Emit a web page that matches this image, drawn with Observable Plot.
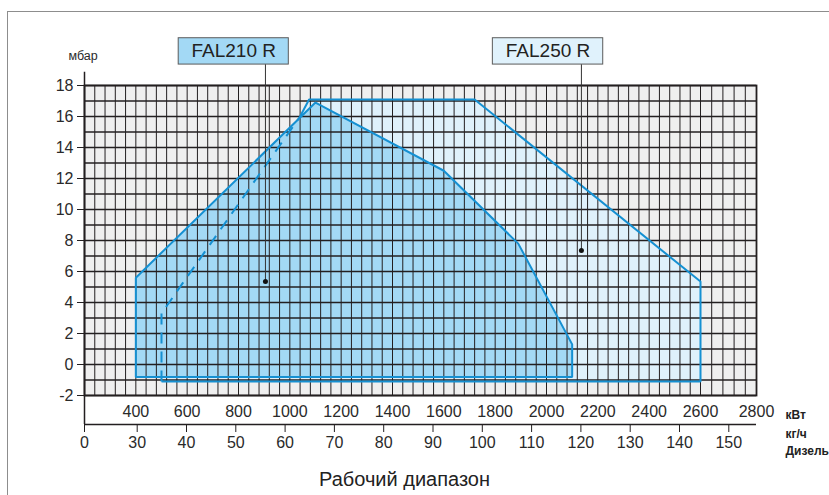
<!DOCTYPE html>
<html><head><meta charset="utf-8">
<script src="https://cdn.jsdelivr.net/npm/d3@7"></script>
<script src="https://cdn.jsdelivr.net/npm/@observablehq/plot@0.6"></script>
<style>
body{margin:0;background:#fff;}
#wrap{position:relative;width:829px;height:495px;overflow:hidden;font-family:"Liberation Sans",Arial,sans-serif;}
#wrap svg{position:absolute;left:0;top:0;}
#border{position:absolute;left:7px;top:11px;width:900px;height:600px;border-top:1.5px solid #8d8d8d;border-left:1.5px solid #8d8d8d;}
</style></head><body><div id="wrap"><div id="border"></div></div>
<script>
// ---- data ----
const kwTicks = [400, 600, 800, 1000, 1200, 1400, 1600, 1800, 2000, 2200, 2400, 2600, 2800];
const kgTicks = [0, 30, 40, 50, 60, 70, 80, 90, 100, 110, 120, 130, 140, 150];
const mbarTicks = [-2, 0, 2, 4, 6, 8, 10, 12, 14, 16, 18];

const fal210Kw   = [400, 400, 1100, 1600, 1890, 2100, 2100];
const fal210Mbar = [-0.8, 5.6, 16.9, 12.5, 7.8, 1.3, -0.8];

const fal250Kw   = [500, 500, 1040, 1075, 1720, 2600, 2600];
const fal250Mbar = [-1.1, 3.3, 16.0, 17.1, 17.1, 5.35, -1.1];

const labels     = ["FAL210 R", "FAL250 R"];
const labelKw    = [905, 2136];
const labelMbar  = [5.35, 7.35];
const boxFromKw  = [567, 1791];
const boxToKw    = [996, 2221];
const boxColors  = ["#a3d9f5", "#e0f2fc"];

const unitLabels = ["кВт", "кг/ч", "Дизель"];
const unitOffsets = [23, 42.5, 59];
const title = "Рабочий диапазон";
const yUnit = "мбар";

// ---- derived tables ----
const fal210 = fal210Kw.map((kw, i) => ({kw, mbar: fal210Mbar[i]}));
const fal250 = fal250Kw.map((kw, i) => ({kw, mbar: fal250Mbar[i]}));
const fal250Dashed = fal250.slice(0, 3);
const fal250Solid = [2, 3, 4, 5, 6, 0].map(i => fal250[i]);
const ann = labels.map((label, i) => ({label, kw: labelKw[i], mbar: labelMbar[i], b1: boxFromKw[i], b2: boxToKw[i], fill: boxColors[i]}));
const gridKw = d3.range(200, 2801, 40);
const gridMbar = d3.range(-2, 18.01, 1);

const INK = "#231f20";
const EDGE = "#1590d2";
const FONT = "'Liberation Sans', Arial, sans-serif";
const fmt = d => String(d);

const unitMarks = unitLabels.map((u, i) =>
  Plot.text([u], {frameAnchor: "bottom-right", dx: 29, dy: unitOffsets[i], textAnchor: "start", fontWeight: "bold", fontSize: 12, text: d => d, fill: "#222"}));

const main = Plot.plot({
  width: 829, height: 495,
  marginLeft: 84, marginRight: 73, marginTop: 85, marginBottom: 100,
  style: {background: "transparent", fontFamily: FONT, color: "#2a2a2a"},
  x: {type: "linear", domain: [200, 2600, 2800], range: [84, 700, 756]},
  y: {domain: [-2, 18]},
  color: {type: "identity"},
  marks: [
    Plot.frame({fill: "#efefef", stroke: "none"}),
    Plot.line(fal250, {x: "kw", y: "mbar", fill: "#dff1fb", stroke: "none", curve: "linear-closed"}),
    Plot.line(fal210, {x: "kw", y: "mbar", fill: "#a3d9f5", stroke: "none", curve: "linear-closed"}),
    Plot.ruleX(gridKw, {stroke: INK, strokeWidth: 1}),
    Plot.ruleY(gridMbar, {stroke: INK, strokeWidth: 1.5}),
    Plot.frame({stroke: INK, strokeWidth: 1.8}),
    Plot.line(fal250Solid, {x: "kw", y: "mbar", stroke: EDGE, strokeWidth: 2, strokeLinejoin: "miter", strokeLinecap: "butt"}),
    Plot.line(fal250Dashed, {x: "kw", y: "mbar", stroke: EDGE, strokeWidth: 2, strokeDasharray: "11,8", strokeLinecap: "butt"}),
    Plot.line(fal210, {x: "kw", y: "mbar", stroke: EDGE, strokeWidth: 2, curve: "linear-closed", strokeLinejoin: "miter"}),
    Plot.ruleX([200], {y1: 18.85, y2: -3.87, stroke: INK, strokeWidth: 1.5}),
    Plot.ruleX(ann, {x: "kw", y1: 19.35, y2: "mbar", stroke: "#333", strokeWidth: 1}),
    Plot.dot(ann, {x: "kw", y: "mbar", r: 2.5, fill: "#111", stroke: "none"}),
    Plot.rect(ann, {x1: "b1", x2: "b2", y1: 19.35, y2: 21.05, fill: "fill", stroke: "#5b5b5b", strokeWidth: 1}),
    Plot.text(ann, {x: d => (d.b1 + d.b2) / 2, y: 20.2, text: "label", fontSize: 19, fill: "#222"}),
    Plot.axisY(mbarTicks, {tickSize: 7, tickPadding: 4, fontSize: 16, label: null, tickFormat: fmt, stroke: INK}),
    Plot.axisX(kwTicks, {tickSize: 0, tickPadding: 10, fontSize: 16, label: null, tickFormat: fmt}),
    Plot.text([yUnit], {frameAnchor: "top-left", dx: -16, dy: -34, fontSize: 12.5, text: d => d}),
    ...unitMarks,
    Plot.text([title], {frameAnchor: "bottom", dx: -16, dy: 90, fontSize: 20, text: d => d, fill: "#222"})
  ]
});

const kg = Plot.plot({
  width: 829, height: 495,
  marginLeft: 84, marginRight: 73, marginTop: 423, marginBottom: 71,
  style: {background: "transparent", fontFamily: FONT, color: "#2a2a2a"},
  x: {type: "linear", domain: [0, 30, 150], range: [84, 136.7, 728.3], axis: null},
  y: {domain: [0, 1], axis: null},
  marks: [
    Plot.ruleY([0], {stroke: INK, strokeWidth: 1.5}),
    Plot.axisX(kgTicks, {tickSize: 8, tickPadding: 4, fontSize: 16, label: null, tickFormat: fmt, stroke: INK})
  ]
});

const wrap = document.getElementById("wrap");
wrap.appendChild(main);
wrap.appendChild(kg);
</script></body></html>
